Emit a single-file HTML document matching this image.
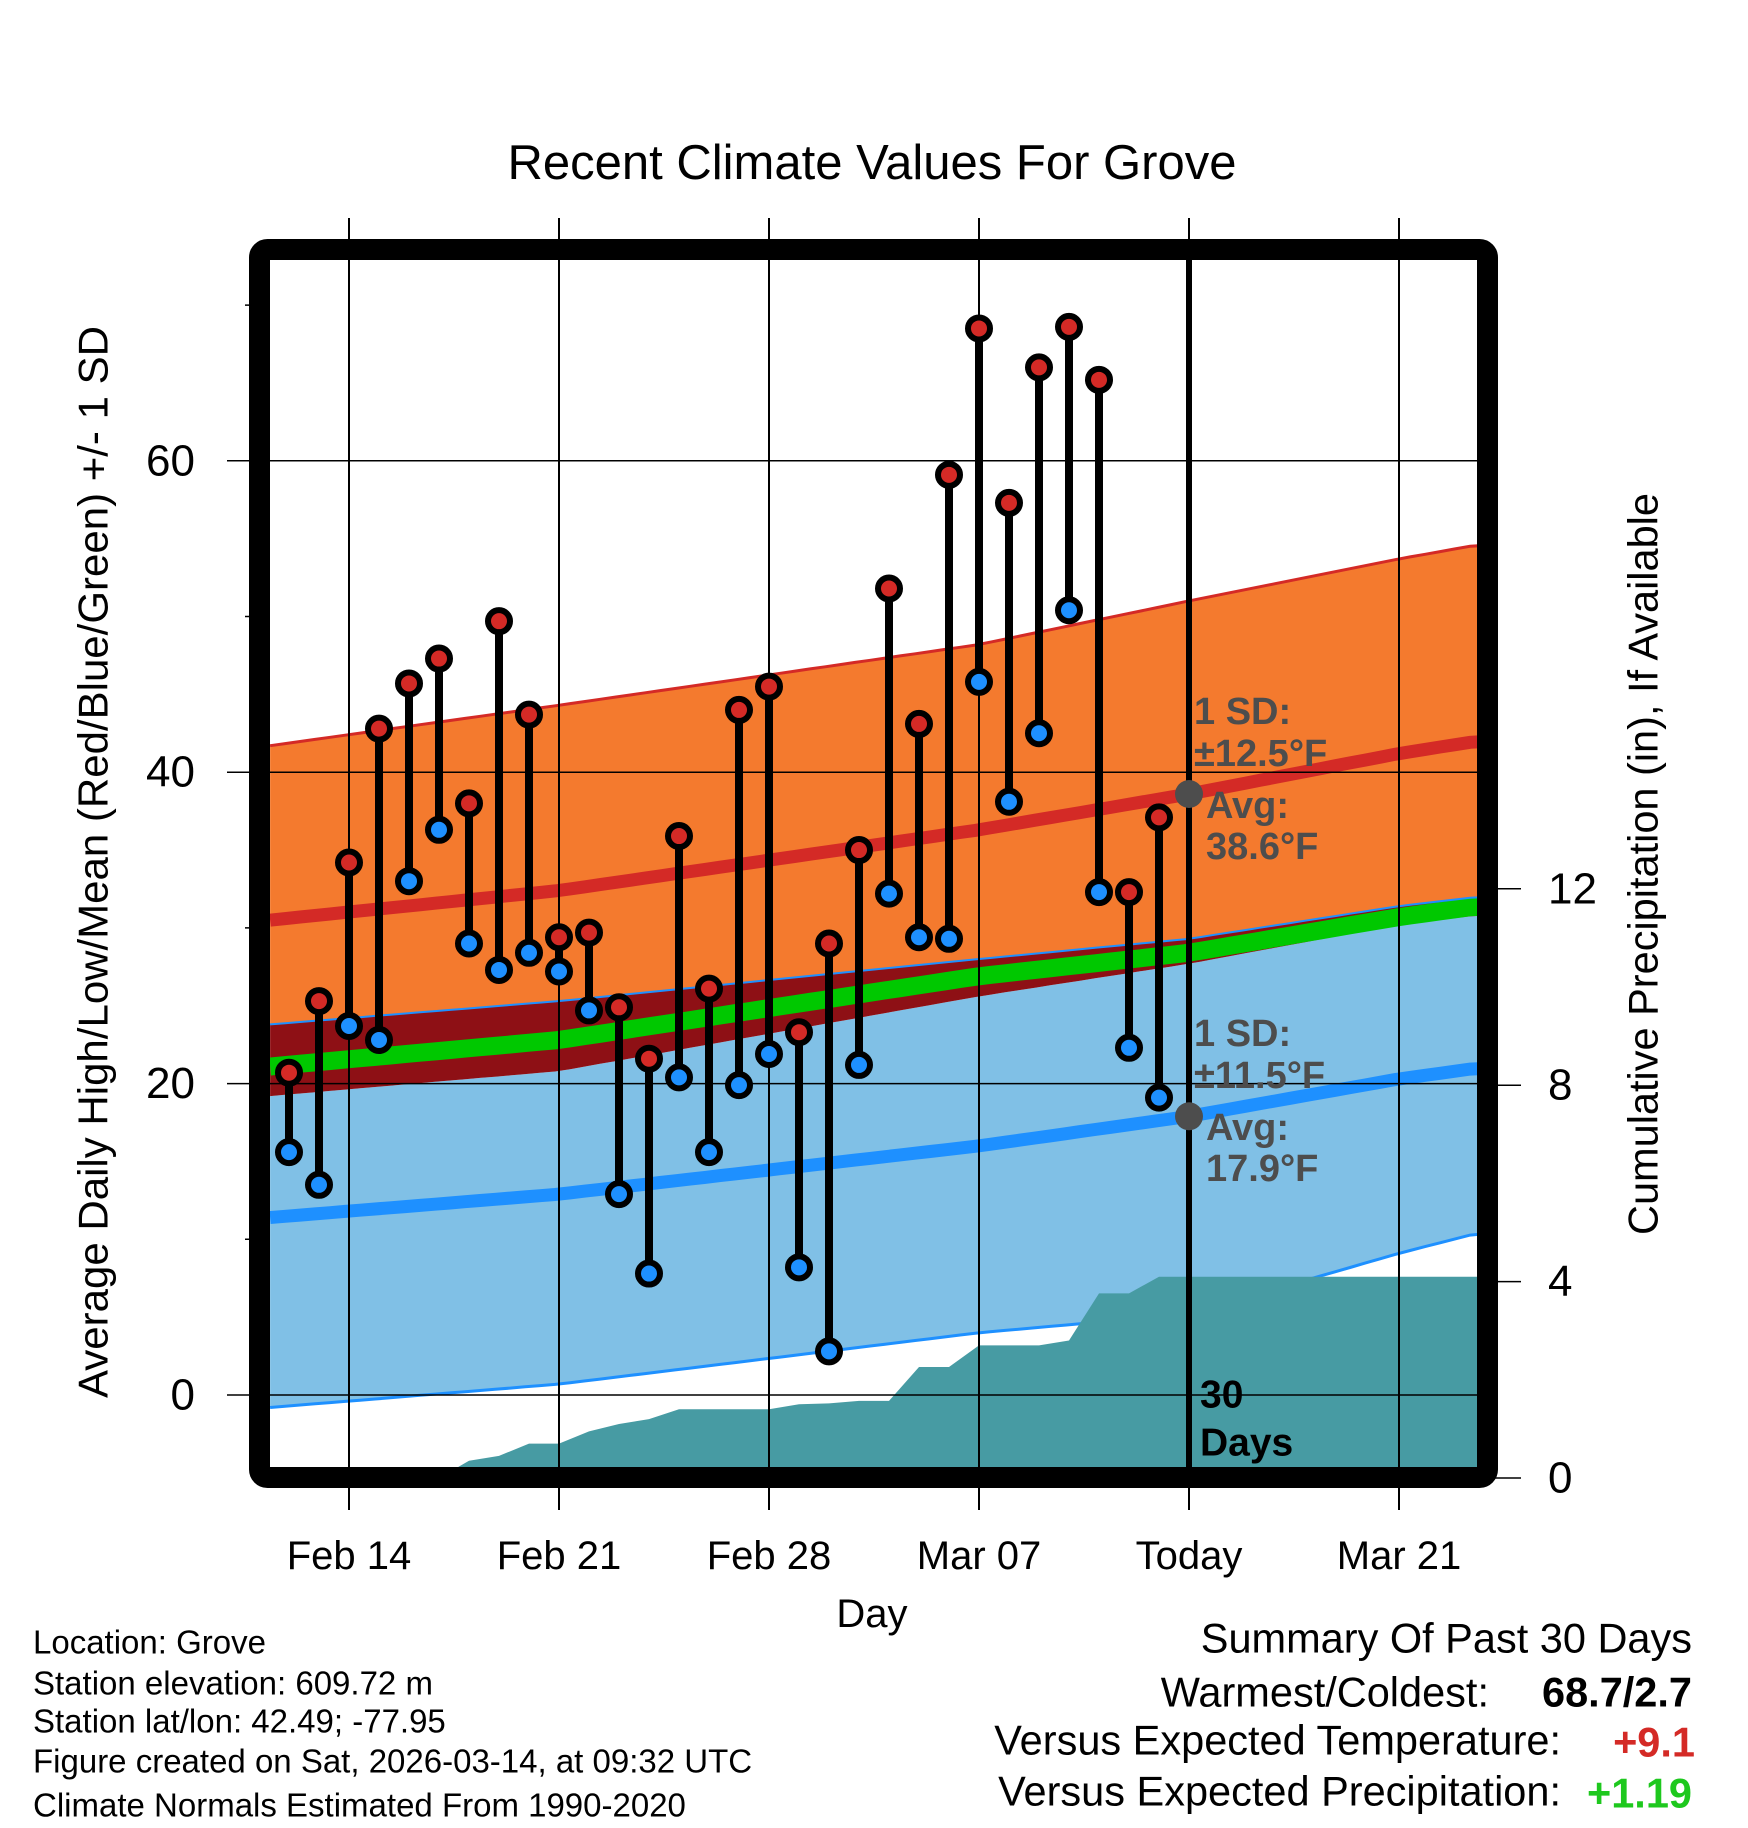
<!DOCTYPE html>
<html><head><meta charset="utf-8"><style>
html,body{margin:0;padding:0;background:#fff;}
svg{display:block;font-family:"Liberation Sans",sans-serif;}
</style></head><body>
<svg id="chart" width="1748" height="1828" viewBox="0 0 1748 1828" xmlns="http://www.w3.org/2000/svg">
<g id="bands"></g>
<g id="precip"></g>
<g id="grid"></g>
<g id="marks"></g>
<g id="labels"></g>
</svg>
<script>
// ---- data ----
const dayLabels = ["Feb 14","Feb 21","Feb 28","Mar 07","Today","Mar 21"];
const dayTicks = [0,7,14,21,28,35];
const obsDays = [-2,-1,0,1,2,3,4,5,6,7,8,9,10,11,12,13,14,15,16,17,18,19,20,21,22,23,24,25,26,27];
const highs = [20.7,25.3,34.2,42.8,45.7,47.3,38.0,49.7,43.7,29.4,29.7,24.9,21.6,35.9,26.1,44.0,45.5,23.3,29.0,35.0,51.8,43.1,59.1,68.5,57.3,66.0,68.6,65.2,32.3,37.1];
const lows = [15.6,13.5,23.7,22.8,33.0,36.3,29.0,27.3,28.4,27.2,24.7,12.9,7.8,20.4,15.6,19.9,21.9,8.2,2.8,21.2,32.2,29.4,29.3,45.8,38.1,42.5,50.4,32.3,22.3,19.1];
const precipCum = [0,0,0,0,0,0,0.35,0.45,0.7,0.7,0.95,1.1,1.2,1.4,1.4,1.4,1.4,1.5,1.52,1.57,1.57,2.26,2.26,2.7,2.7,2.7,2.8,3.76,3.76,4.1];
const normDays = [-2.63,7,21,28,35,37.63];
const normHighUpper = [41.7,44.3,48.2,51.0,53.7,54.6];
const normHigh = [30.5,32.4,36.3,38.6,41.2,42.0];
const normHighLower = [23.8,25.3,28.0,29.3,31.4,32.0];
const normMean = [21.1,22.8,26.9,28.4,30.7,31.4];
const normLowUpper = [19.2,20.8,25.6,27.7,30.2,30.8];
const normLow = [11.4,12.9,16.0,17.9,20.3,21.0];
const normLowLower = [-0.8,0.7,4.0,5.2,9.1,10.4];
const yTicks = [0,20,40,60];
const yMinor = [10,30,50,70];
const pTicks = [0,4,8,12];

// ---- scales ----
const X = d => 349 + d*30;
const Y = v => 1395 - v*15.57;
const P = p => 1478 - p*49.1;
const L = 270, R = 1478, T = 260, B = 1468;
const NS = "http://www.w3.org/2000/svg";
function mk(tag, parent, attrs){const e=document.createElementNS(NS,tag);for(const k in attrs)e.setAttribute(k,attrs[k]);parent.appendChild(e);return e;}
function interp(arr, d){for(let i=0;i<normDays.length-1;i++){if(d<=normDays[i+1]){const t=(d-normDays[i])/(normDays[i+1]-normDays[i]);return arr[i]+t*(arr[i+1]-arr[i]);}}return arr[arr.length-1];}
function samples(){const s=[];const end=normDays[normDays.length-1];for(let d=normDays[0];d<end;d+=0.5)s.push(d);s.push(end+0.5);return s;}
function linePts(arr){return samples().map(d=>X(d).toFixed(1)+","+Y(interp(arr,d)).toFixed(1)).join(" ");}
function bandPts(a,b){const s=samples();const top=s.map(d=>X(d).toFixed(1)+","+Y(interp(a,d)).toFixed(1));const bot=s.slice().reverse().map(d=>X(d).toFixed(1)+","+Y(interp(b,d)).toFixed(1));return top.concat(bot).join(" ");}

const defs = mk("defs", document.getElementById("chart"), {});
const cp = mk("clipPath", defs, {id:"plotclip"});
mk("rect", cp, {x:L,y:T,width:R-L,height:B-T});

const bands = document.getElementById("bands");
bands.setAttribute("clip-path","url(#plotclip)");
const bo = mk("polygon", bands, {points:bandPts(normHighUpper,normHighLower), fill:"#f47a2e"});


const bb = mk("polygon", bands, {points:bandPts(normLowUpper,normLowLower), fill:"#80c0e6"});


const bd = mk("polygon", bands, {points:bandPts(normHighLower,normLowUpper), fill:"#8e1015"});


const lg = mk("polyline", bands, {points:linePts(normMean), fill:"none", stroke:"#00c800", "stroke-width":18});


const lu = mk("polyline", bands, {points:linePts(normHighUpper), fill:"none", stroke:"#d42a26", "stroke-width":3});


const lhl = mk("polyline", bands, {points:linePts(normHighLower), fill:"none", stroke:"#1e90ff", "stroke-width":2});


const lh = mk("polyline", bands, {points:linePts(normHigh), fill:"none", stroke:"#d42a26", "stroke-width":13});


const ll = mk("polyline", bands, {points:linePts(normLow), fill:"none", stroke:"#1e90ff", "stroke-width":13});


const lll = mk("polyline", bands, {points:linePts(normLowLower), fill:"none", stroke:"#1e90ff", "stroke-width":3});



// precip
const pg = document.getElementById("precip");
pg.setAttribute("clip-path","url(#plotclip)");
let pp = [X(normDays[0])+","+P(0)];
obsDays.forEach((d,i)=>pp.push(X(d)+","+P(precipCum[i]).toFixed(1)));
pp.push(R+","+P(precipCum[precipCum.length-1]).toFixed(1));
pp.push(R+","+(B+5)); pp.push(L+","+(B+5));
const pa = mk("polygon", pg, {points:pp.join(" "), fill:"#479ba3"});



// grid
const grid = document.getElementById("grid");
dayTicks.forEach((d,i)=>{
  const g = mk("line", grid, {x1:X(d),x2:X(d),y1:218,y2:1510,stroke:"#000","stroke-width":2});
  
  
});
const tl = mk("line", grid, {x1:X(28),x2:X(28),y1:T,y2:B,stroke:"#000","stroke-width":6});


yTicks.forEach(v=>{
  const g = mk("line", grid, {x1:227,x2:R,y1:Y(v),y2:Y(v),stroke:"#000","stroke-width":1.5});
  
  
});
yMinor.forEach(v=>{
  const g = mk("line", grid, {x1:245,x2:L,y1:Y(v),y2:Y(v),stroke:"#000","stroke-width":1.5});
  
  
});
pTicks.forEach(p=>{
  const g = mk("line", grid, {x1:R,x2:1521,y1:P(p),y2:P(p),stroke:"#000","stroke-width":1.5});
  
  
});
const frame = mk("rect", grid, {x:259.5,y:249.5,width:1228,height:1228,rx:8,fill:"none",stroke:"#000","stroke-width":21});



// marks
const marks = document.getElementById("marks");
obsDays.forEach((d,i)=>{
  const b = mk("line", marks, {x1:X(d),x2:X(d),y1:Y(highs[i]),y2:Y(lows[i]),stroke:"#000","stroke-width":8});
  
  
});
obsDays.forEach((d,i)=>{
  const h = mk("circle", marks, {cx:X(d),cy:Y(highs[i]),r:11,fill:"#d42a26",stroke:"#000","stroke-width":6});
  
  
  const l = mk("circle", marks, {cx:X(d),cy:Y(lows[i]),r:11,fill:"#1e90ff",stroke:"#000","stroke-width":6});
  
  
});
const ah = mk("circle", marks, {cx:X(28),cy:Y(interp(normHigh,28)),r:14,fill:"#4d4d4d"});


const al = mk("circle", marks, {cx:X(28),cy:Y(interp(normLow,28)),r:14,fill:"#4d4d4d"});



// labels
const lab = document.getElementById("labels");
function txt(s,x,y,o,name){const e=mk("text",lab,Object.assign({x:x,y:y,"dominant-baseline":"central"},o));e.textContent=s;
return e;}
txt("Recent Climate Values For Grove",872,163,{"font-size":49,"text-anchor":"middle"},"chart-title");
dayTicks.forEach((d,i)=>txt(dayLabels[i],X(d),1556,{"font-size":40,"text-anchor":"middle"},"x-tick-label"));
txt("Day",872,1614,{"font-size":40,"text-anchor":"middle"},"x-axis-title");
yTicks.forEach(v=>txt(String(v),195,Y(v),{"font-size":44,"text-anchor":"end"},"y-tick-label"));
pTicks.forEach(p=>txt(String(p),1548,P(p),{"font-size":44},"precip-tick-label"));
txt("Average Daily High/Low/Mean (Red/Blue/Green) +/- 1 SD",93,862,{"font-size":42,"text-anchor":"middle",transform:"rotate(-90 93 862)"},"y-axis-title");
txt("Cumulative Precipitation (in), If Available",1643,864,{"font-size":41.5,"text-anchor":"middle",transform:"rotate(-90 1643 864)"},"precip-axis-title");
const ga = {"font-size":38,"font-weight":"bold",fill:"#4d4d4d"};
txt("1 SD:",1194,712,ga,"high-sd-label");
txt("±12.5°F",1194,754,ga,"high-sd-value");
txt("Avg:",1206,806,ga,"high-avg-label");
txt("38.6°F",1206,847,ga,"high-avg-value");
txt("1 SD:",1194,1034,ga,"low-sd-label");
txt("±11.5°F",1194,1076,ga,"low-sd-value");
txt("Avg:",1206,1128,ga,"low-avg-label");
txt("17.9°F",1206,1169,ga,"low-avg-value");
txt("30",1200,1395,{"font-size":39,"font-weight":"bold"},"days-count");
txt("Days",1200,1443,{"font-size":39,"font-weight":"bold"},"days-label");
const info=["Location: Grove","Station elevation: 609.72 m","Station lat/lon: 42.49; -77.95","Figure created on Sat, 2026-03-14, at 09:32 UTC","Climate Normals Estimated From 1990-2020"];
const infoY=[1642,1683,1721,1761,1805];
info.forEach((s,i)=>txt(s,33,infoY[i],{"font-size":33},"station-info-line"));
txt("Summary Of Past 30 Days",1692,1638,{"font-size":41.5,"text-anchor":"end"},"summary-title");
txt("Warmest/Coldest:",1489,1692,{"font-size":41.5,"text-anchor":"end"},"warmest-coldest-label");
txt("68.7/2.7",1692,1692,{"font-size":41.5,"text-anchor":"end","font-weight":"bold"},"warmest-coldest-value");
txt("Versus Expected Temperature:",1561,1740,{"font-size":41.5,"text-anchor":"end"},"temp-anomaly-label");
txt("+9.1",1695,1742,{"font-size":41.5,"text-anchor":"end","font-weight":"bold",fill:"#d42a26"},"temp-anomaly-value");
txt("Versus Expected Precipitation:",1561,1791,{"font-size":41.5,"text-anchor":"end"},"precip-anomaly-label");
txt("+1.19",1692,1793,{"font-size":41.5,"text-anchor":"end","font-weight":"bold",fill:"#1ec81e"},"precip-anomaly-value");
</script>
</body></html>
